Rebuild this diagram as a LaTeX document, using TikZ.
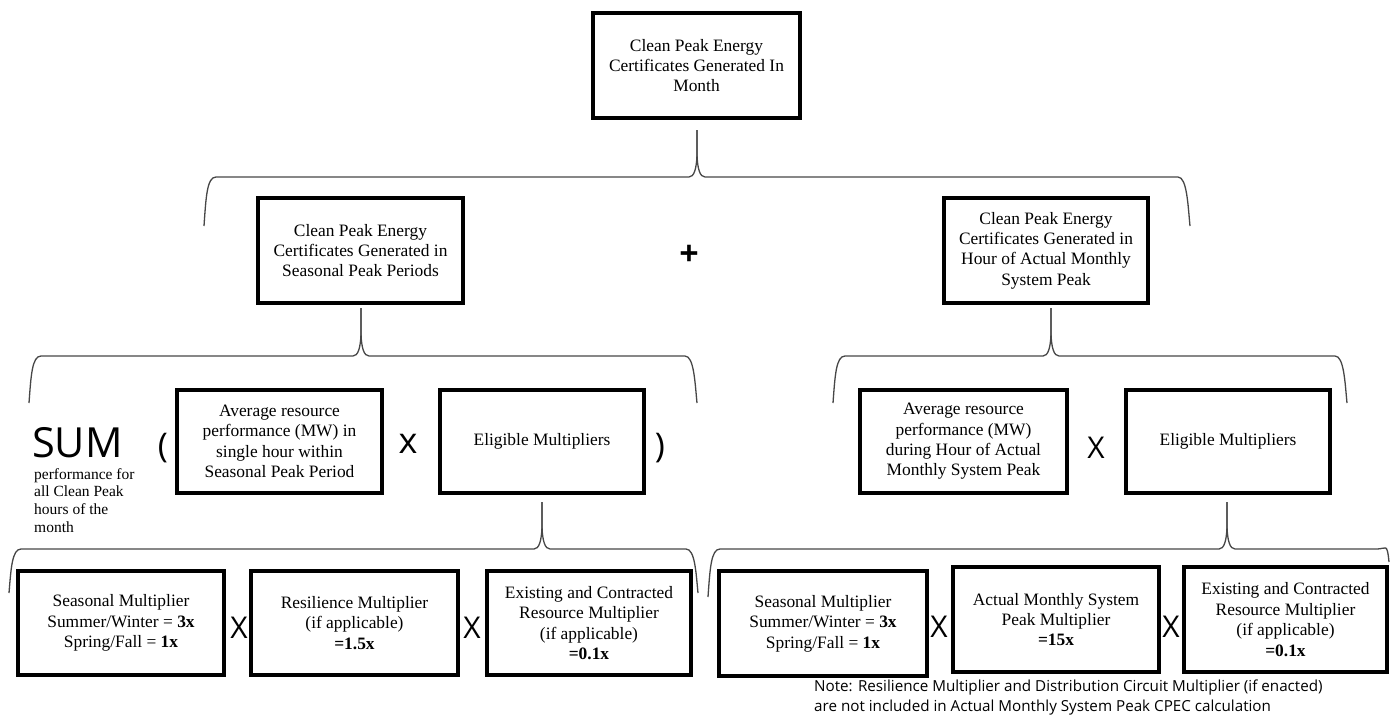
\documentclass[tikz,border=0pt]{standalone}
\usepackage{fontspec}
\setmainfont{Liberation Serif}
\newfontfamily\uisans{Open Sans}
% brace: tip x, tip y, line y, left x, left bottom y, right x, right bottom y
\newcommand\cpbrace[7]{%
  \draw[brc] (#4,#5) .. controls ({#4+2},{#3+20}) and ({#4+3},#3) .. ({#4+12},#3)
    -- ({#1-8},#3) .. controls ({#1-3},#3) and ({#1-0.5},{#3-8}) .. (#1,{#3-22})
    -- (#1,#2);
  \draw[brc] (#1,#2) -- (#1,{#3-22}) .. controls ({#1+0.5},{#3-8}) and ({#1+3},#3) .. ({#1+8},#3)
    -- ({#6-12},#3) .. controls ({#6-3},#3) and ({#6-2},{#7-20}) .. (#6,#7);
}
\begin{document}
\begin{tikzpicture}[x=1pt,y=-1pt,
  box/.style={draw=black,line width=3.4pt,inner sep=0pt,align=center,
    font=\fontsize{17.4}{20.4}\selectfont},
  brc/.style={draw=black!72,line width=1.3pt},
  opx/.style={font=\uisans\fontsize{30}{30}\selectfont,inner sep=0pt},
  paren/.style={font=\uisans\fontsize{34}{34}\selectfont,inner sep=0pt}]
\useasboundingbox (0,0) rectangle (1390,721);
\fill[white] (0,0) rectangle (1390,721);

% level 0
\node[box,minimum width=207pt,minimum height=105pt] (top) at (696.5,65.5)
  {Clean Peak Energy\\Certificates Generated In\\Month};

% level 1
\node[box,minimum width=205pt,minimum height=105pt] (seas) at (360.5,250.5)
  {Clean Peak Energy\\Certificates Generated in\\Seasonal Peak Periods};
\node[box,minimum width=204pt,minimum height=105pt] (hour) at (1046,250.5)
  {Clean Peak Energy\\Certificates Generated in\\Hour of Actual Monthly\\System Peak};
\node[font=\uisans\bfseries\fontsize{34}{34}\selectfont,inner sep=0pt] (plus) at (689,255) {+};

% level 2 left
\node[font=\uisans\fontsize{41.5}{41.5}\selectfont,inner sep=0pt,anchor=base west] (sum) at (32,457) {SUM};
\node[anchor=north west,align=left,inner sep=0pt,font=\fontsize{15.5}{17.7}\selectfont] (perf) at (34,468)
  {performance for\\all Clean Peak\\hours of the\\month};
\node[paren] (lp) at (163,448) {(};
\node[box,minimum width=205pt,minimum height=103pt] (avgL) at (279.5,441.5)
  {Average resource\\performance (MW) in\\single hour within\\Seasonal Peak Period};
\node[font=\uisans\fontsize{36}{36}\selectfont,inner sep=0pt] (xL) at (408,444) {x};
\node[box,minimum width=204pt,minimum height=103pt] (eligL) at (542,441.5)
  {Eligible Multipliers};
\node[paren] (rp) at (660,448) {)};

% level 2 right
\node[box,minimum width=207pt,minimum height=103pt] (avgR) at (963.5,441.5)
  {Average resource\\performance (MW)\\during Hour of Actual\\Monthly System Peak};
\node[opx] (xR) at (1096,448) {X};
\node[box,minimum width=204pt,minimum height=103pt] (eligR) at (1228,441.5)
  {Eligible Multipliers};

% level 3 left
\node[box,minimum width=206pt,minimum height=104pt] (seasmL) at (121,623)
  {Seasonal Multiplier\\Summer/Winter = \textbf{3x}\\Spring/Fall = \textbf{1x}};
\node[opx] (x1) at (239,628) {X};
\node[box,minimum width=207pt,minimum height=104pt] (resil) at (354.5,623)
  {Resilience Multiplier\\(if applicable)\\\textbf{=1.5x}};
\node[opx] (x2) at (472,628) {X};
\node[box,minimum width=204pt,minimum height=104pt] (exL) at (589,623)
  {Existing and Contracted\\Resource Multiplier\\(if applicable)\\\textbf{=0.1x}};

% level 3 right
\node[box,minimum width=208pt,minimum height=105pt] (seasmR) at (823,623.5)
  {Seasonal Multiplier\\Summer/Winter = \textbf{3x}\\Spring/Fall = \textbf{1x}};
\node[opx] (x3) at (939,627) {X};
\node[box,minimum width=206pt,minimum height=105pt] (peakm) at (1056,619.5)
  {Actual Monthly System\\Peak Multiplier\\\textbf{=15x}};
\node[opx] (x4) at (1171,627) {X};
\node[box,minimum width=203pt,minimum height=105pt] (exR) at (1285.5,619.5)
  {Existing and Contracted\\Resource Multiplier\\(if applicable)\\\textbf{=0.1x}};

% note
\node[anchor=north west,align=left,inner sep=0pt,font=\uisans\fontsize{15.2}{20}\selectfont] (note) at (814,680)
  {Note: Resilience Multiplier and Distribution Circuit Multiplier (if enacted)\\are not included in Actual Monthly System Peak CPEC calculation};

% braces
\cpbrace{697}{130}{177}{204}{226}{1190}{226}
\cpbrace{361}{308}{356}{29}{403}{697}{403}
\cpbrace{1051}{308}{356}{833}{403}{1347}{403}
\cpbrace{542}{502}{549}{9}{593}{698}{593}
\cpbrace{1227}{502}{549}{708}{597}{1389}{562}
\end{tikzpicture}
\end{document}
